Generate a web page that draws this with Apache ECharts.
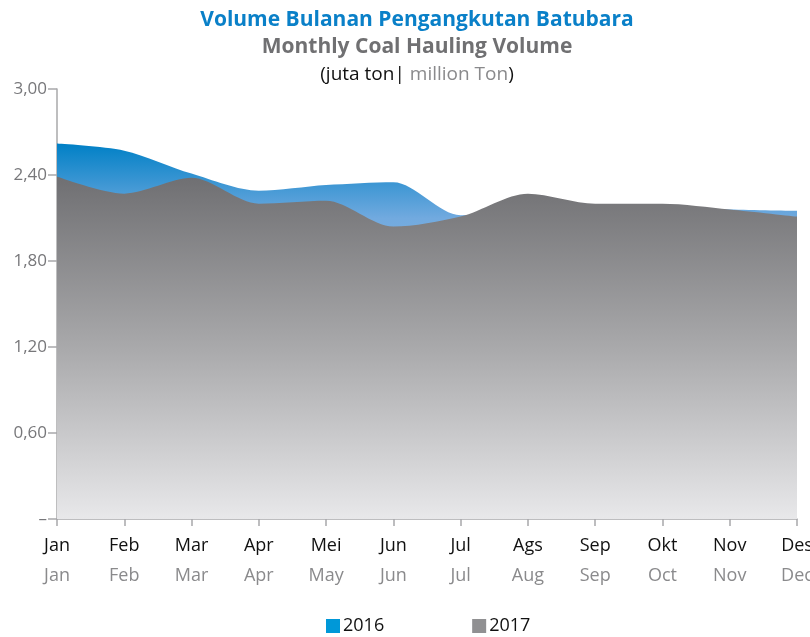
<!DOCTYPE html>
<html>
<head>
<meta charset="utf-8">
<script src="https://cdn.jsdelivr.net/npm/echarts@6/dist/echarts.min.js"></script>
<style>
  html, body { margin: 0; padding: 0; background: #fff; }
  #chart { width: 810px; height: 637px; }
</style>
</head>
<body>
<div id="chart"></div>
<script>
// Month labels (Indonesian / English)
const monthsId = ['Jan', 'Feb', 'Mar', 'Apr', 'Mei', 'Jun', 'Jul', 'Ags', 'Sep', 'Okt', 'Nov', 'Des'];
const monthsEn = ['Jan', 'Feb', 'Mar', 'Apr', 'May', 'Jun', 'Jul', 'Aug', 'Sep', 'Oct', 'Nov', 'Dec'];

// Monthly coal hauling volume, million tons
const volume2016 = [2.62, 2.57, 2.41, 2.29, 2.33, 2.35, 2.12, 2.15, 2.17, 2.17, 2.16, 2.15];
const volume2017 = [2.39, 2.27, 2.38, 2.20, 2.22, 2.04, 2.11, 2.27, 2.20, 2.20, 2.16, 2.11];

const FONT = '"Open Sans", "Noto Sans", sans-serif';

const chart = echarts.init(document.getElementById('chart'));

chart.setOption({
  animation: false,
  textStyle: { fontFamily: FONT },
  title: [
    {
      text: 'Volume Bulanan Pengangkutan Batubara',
      left: 412, top: 5, textAlign: 'center',
      textStyle: { fontFamily: FONT, fontSize: 21, fontWeight: 'bold', color: '#0a80c8' }
    },
    {
      text: 'Monthly Coal Hauling Volume',
      left: 412, top: 32, textAlign: 'center',
      textStyle: { fontFamily: FONT, fontSize: 21, fontWeight: 'bold', color: '#707072' }
    },
    {
      text: '{a|(juta ton|}{b| million Ton}{a|)}',
      left: 412, top: 60, textAlign: 'center',
      textStyle: {
        fontFamily: FONT,
        fontWeight: 'normal',
        rich: {
          a: { fontFamily: FONT, fontSize: 19, fontWeight: 'normal', color: '#111' },
          b: { fontFamily: FONT, fontSize: 19, fontWeight: 'normal', color: '#8a8a8c' }
        }
      }
    }
  ],
  legend: {
    top: 617,
    left: 326,
    padding: 0,
    icon: 'rect',
    itemWidth: 14,
    itemHeight: 14,
    itemGap: 88,
    textStyle: { fontFamily: FONT, fontSize: 18, color: '#111', padding: [0, 0, 0, -2] },
    data: [
      { name: '2016', itemStyle: { color: '#0098d8' } },
      { name: '2017', itemStyle: { color: '#909092' } }
    ]
  },
  grid: { left: 57, right: 13, top: 89, bottom: 118, outerBoundsMode: 'none' },
  xAxis: {
    type: 'category',
    boundaryGap: false,
    data: monthsId,
    axisLine: { lineStyle: { color: '#a8a8aa', width: 1.5 } },
    axisTick: { show: true, length: 7, alignWithLabel: true, lineStyle: { color: '#a8a8aa', width: 1.5 } },
    axisLabel: {
      margin: 12,
      interval: 0,
      hideOverlap: false,
      formatter: (v, i) => v + '\n{en|' + monthsEn[i] + '}',
      fontFamily: FONT,
      fontSize: 18,
      color: '#111',
      lineHeight: 30,
      rich: {
        en: { fontFamily: FONT, fontSize: 18, color: '#8a8a8c', lineHeight: 30 }
      }
    }
  },
  yAxis: {
    type: 'value',
    min: 0,
    max: 3,
    interval: 0.6,
    splitLine: { show: false },
    axisLine: { show: true, lineStyle: { color: '#a8a8aa', width: 1.5 } },
    axisTick: { show: true, length: 9, lineStyle: { color: '#a8a8aa', width: 1.5 } },
    axisLabel: {
      margin: 10,
      fontFamily: FONT,
      fontSize: 17,
      color: '#77777a',
      formatter: v => v === 0 ? '–' : v.toFixed(2).replace('.', ',')
    }
  },
  series: [
    {
      name: '2016',
      type: 'line',
      data: volume2016,
      smooth: 0.3,
      symbol: 'none',
      lineStyle: { width: 0 },
      itemStyle: { color: '#0098d8' },
      areaStyle: {
        opacity: 1,
        color: new echarts.graphic.LinearGradient(0, 0, 0, 1, [
          { offset: 0, color: '#0080c6' },
          { offset: 0.2, color: '#72aadf' },
          { offset: 1, color: '#c8def2' }
        ])
      },
      z: 1
    },
    {
      name: '2017',
      type: 'line',
      data: volume2017,
      smooth: 0.3,
      symbol: 'none',
      lineStyle: { width: 0 },
      itemStyle: { color: '#909092' },
      areaStyle: {
        opacity: 1,
        color: new echarts.graphic.LinearGradient(0, 0, 0, 1, [
          { offset: 0, color: '#6f6f72' },
          { offset: 0.5, color: '#a9a9ab' },
          { offset: 1, color: '#e8e8ea' }
        ])
      },
      z: 2
    }
  ]
});
</script>
</body>
</html>
